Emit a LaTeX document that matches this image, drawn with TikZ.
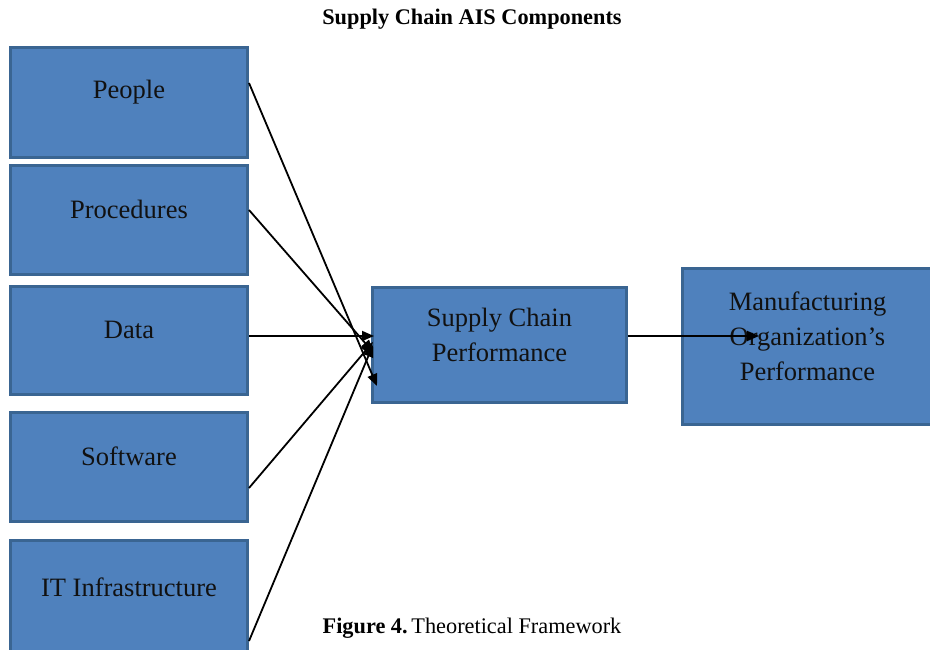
\documentclass[tikz,border=0pt]{standalone}
\usepackage{fontspec}
\setmainfont{Liberation Serif}
\usetikzlibrary{arrows.meta}
\definecolor{boxfill}{HTML}{4F81BD}
\definecolor{boxedge}{HTML}{3A6592}
\definecolor{ink}{HTML}{111111}
\tikzset{
  comp/.style={draw=boxedge, line width=3pt, fill=boxfill, rectangle, inner sep=0pt},
  boxtext/.style={font=\fontsize{26.5}{35}\selectfont, text=ink, align=center},
  link/.style={draw=black, line width=1.8pt, -{Triangle[length=12pt,width=10pt]}}
}
% box given by its outer corners (x1,y1) and (x2,y2), text set a little above centre
\newcommand{\compbox}[6]{%
  \node[comp, minimum width=#4-#2-3, minimum height=#5-#3-3, anchor=north west] (#1) at (#2,#3) {};
  \node[boxtext] (#1-t) at ([yshift=10.5pt]#1.center) {#6};
}
\begin{document}
\begin{tikzpicture}[x=1pt,y=-1pt]
\useasboundingbox (0,0) rectangle (930,650);
\fill[white] (0,0) rectangle (930,650);

\node[font=\bfseries\fontsize{22.3}{26}\selectfont] (title) at (472,19) {Supply Chain AIS Components};

\compbox{people}{9}{46}{249}{159}{People}
\compbox{proc}{9}{164}{249}{276}{Procedures}
\compbox{data}{9}{285}{249}{396}{Data}
\compbox{soft}{9}{411}{249}{523}{Software}
\compbox{infra}{9}{539}{249}{656}{IT Infrastructure}
\compbox{scp}{371}{286}{628}{404}{Supply Chain\\Performance}
\compbox{mop}{681}{267}{934}{426}{Manufacturing\\Organization's\\Performance}

% arrow end points inside the performance box
\coordinate (e1) at (377,386);
\coordinate (e2) at (373,352);
\coordinate (e3) at (374,336);
\coordinate (e4) at (373,342);
\coordinate (e5) at (373,345);
\coordinate (e6) at (759,336);

\draw[link] (people.north east |- 0,83) -- (e1);
\draw[link] (proc.north east |- 0,210) -- (e2);
\draw[link] (data.north east |- 0,336) -- (e3);
\draw[link] (soft.north east |- 0,488) -- (e4);
\draw[link] (infra.north east |- 0,641) -- (e5);
\draw[link] (scp.east |- 0,336) -- (e6);

\node[font=\fontsize{22.3}{26}\selectfont] (caption) at (472,628) {\textbf{Figure 4.}\,Theoretical Framework};
\end{tikzpicture}
\end{document}
